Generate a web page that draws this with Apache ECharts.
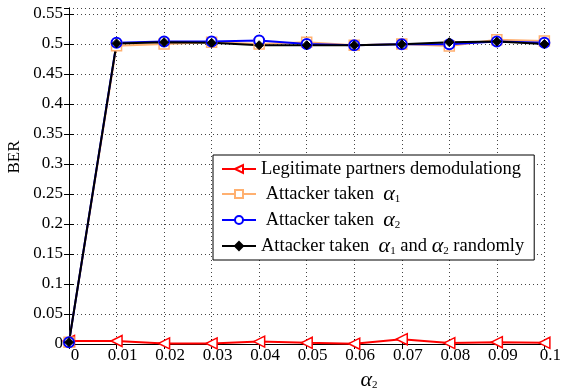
<!DOCTYPE html>
<html>
<head>
<meta charset="utf-8">
<script src="https://cdn.jsdelivr.net/npm/echarts@6/dist/echarts.min.js"></script>
<style>
html,body{margin:0;padding:0;background:#fff;}
#main{width:564px;height:391px;}
</style>
</head>
<body>
<div id="main"></div>
<script>
var alphaX = [0, 0.01, 0.02, 0.03, 0.04, 0.05, 0.06, 0.07, 0.08, 0.09, 0.1];
var legit = [0.005, 0.005, 0.001, 0.001, 0.004, 0.002, 0.0005, 0.008, 0.0015, 0.003, 0.002];
var takenA1 = [0.003, 0.497, 0.500, 0.503, 0.500, 0.503, 0.498, 0.500, 0.4965, 0.507, 0.505];
var takenA2 = [0.003, 0.502, 0.504, 0.504, 0.506, 0.500, 0.498, 0.4995, 0.4995, 0.504, 0.502];
var takenRand = [0.003, 0.501, 0.503, 0.502, 0.498, 0.498, 0.498, 0.4995, 0.503, 0.504, 0.500];

var names = ['Legitimate partners demodulationg', 'Attacker taken a1', 'Attacker taken a2', 'Attacker taken a1 and a2 randomly'];
var labels = {};
labels[names[0]] = 'Legitimate partners demodulationg';
labels[names[1]] = ' Attacker taken  {a|α}{s|1}';
labels[names[2]] = ' Attacker taken  {a|α}{s|2}';
labels[names[3]] = 'Attacker taken  {a|α}{s|1} and {a|α}{s|2} randomly';

function pts(ys) {
    return alphaX.map(function (x, i) { return [x, ys[i]]; });
}

var serif = 'Liberation Serif';
var Mychart = echarts.init(document.getElementById('main'));
var dotted = {show: true, lineStyle: {color: '#444', width: 1, type: [1, 3]}};
var rich = {
    a: {fontFamily: serif, fontStyle: 'italic', fontSize: 22, color: '#000', lineHeight: 20},
    s: {fontFamily: serif, fontSize: 11, color: '#000', padding: [10, 0, 0, 0], lineHeight: 20}
};

option = {
    animation: false,
    backgroundColor: '#fff',
    grid: {left: 69, right: 16, top: 8, bottom: 47},
    xAxis: [{
        type: 'value', min: 0, max: 0.1, interval: 0.01,
        axisLine: {lineStyle: {color: '#000', width: 1}},
        axisTick: {inside: true, length: 5, lineStyle: {color: '#000'}},
        axisLabel: {color: '#000', fontFamily: serif, fontSize: 17, margin: 3, padding: [0, 0, 0, 12]},
        splitLine: dotted
    }, {
        type: 'value', min: 0, max: 0.1, interval: 0.01, position: 'top',
        axisLine: {show: true, lineStyle: {color: '#000', width: 1}},
        axisTick: {show: true, inside: true, length: 5, lineStyle: {color: '#000'}},
        axisLabel: {show: false}, splitLine: {show: false}
    }],
    yAxis: [{
        type: 'value', min: 0, max: 0.56, interval: 0.05,
        axisLine: {show: true, lineStyle: {color: '#000', width: 1}},
        axisTick: {show: true, inside: true, length: 5, lineStyle: {color: '#000'}},
        axisLabel: {color: '#000', fontFamily: serif, fontSize: 17, margin: 6, showMaxLabel: false},
        splitLine: dotted
    }, {
        type: 'value', min: 0, max: 0.56, interval: 0.05, position: 'right',
        axisLine: {show: true, lineStyle: {color: '#000', width: 1}},
        axisTick: {show: true, inside: true, length: 5, lineStyle: {color: '#000'}},
        axisLabel: {show: false}, splitLine: {show: false}
    }],
    legend: {
        orient: 'vertical', left: 213, top: 155,
        data: names,
        backgroundColor: '#fff', borderColor: '#000', borderWidth: 1, borderRadius: 0,
        padding: [4, 10, 3, 8], itemWidth: 34, itemHeight: 10, itemGap: 4,
        textStyle: {fontFamily: serif, fontSize: 18.5, color: '#000', lineHeight: 20, rich: rich},
        formatter: function (name) { return labels[name]; }
    },
    graphic: [{
        type: 'text', x: 15, y: 157, rotation: Math.PI / 2,
        style: {text: 'BER', fontFamily: serif, fontSize: 17, fill: '#000', align: 'center', verticalAlign: 'middle'}
    }, {
        type: 'text', x: 369, y: 380,
        style: {text: '{a|α}{s|2}', rich: rich, align: 'center', verticalAlign: 'middle'}
    }],
    series: [{
        name: names[0], type: 'line', data: pts(legit),
        symbol: 'triangle', symbolRotate: 90, symbolSize: 11,
        lineStyle: {color: '#ff0000', width: 2},
        itemStyle: {color: '#fff', borderColor: '#ff0000', borderWidth: 1.5}
    }, {
        name: names[1], type: 'line', data: pts(takenA1),
        symbol: 'rect', symbolSize: 10,
        lineStyle: {color: '#ffb070', width: 2},
        itemStyle: {color: '#fff', borderColor: '#ffb070', borderWidth: 1.5}
    }, {
        name: names[2], type: 'line', data: pts(takenA2),
        symbol: 'circle', symbolSize: 10,
        lineStyle: {color: '#0000ff', width: 2},
        itemStyle: {color: '#fff', borderColor: '#0000ff', borderWidth: 2}
    }, {
        name: names[3], type: 'line', data: pts(takenRand),
        symbol: 'diamond', symbolSize: 9,
        lineStyle: {color: '#000', width: 2},
        itemStyle: {color: '#000', borderColor: '#000', borderWidth: 1}
    }]
};
Mychart.setOption(option);
</script>
</body>
</html>
